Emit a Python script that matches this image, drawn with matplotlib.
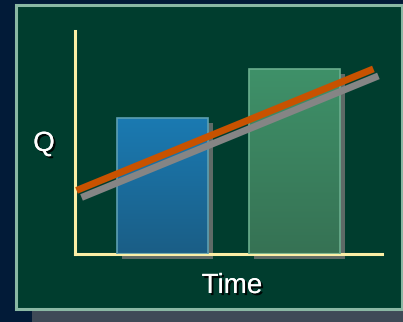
import numpy as np
import matplotlib
matplotlib.use('Agg')
import matplotlib.pyplot as plt
import matplotlib.patches as mpatches
import matplotlib.patheffects as pe
from matplotlib.transforms import offset_copy

# Data (arbitrary units on a 0-10 grid)
bar_x = [2.85, 7.15]
bar_q = [6.1, 8.3]
bar_width = 2.95
bar_top_colors = ['#1a7ab2', '#3f9169']
bar_bottom_colors = ['#1b5e86', '#367254']
bar_edge_colors = ['#5c9fb2', '#6aae8e']

trend_x = [0.05, 9.72]
trend_q = [2.85, 8.3]

x_label = 'Time'
y_label = 'Q'

plt.rcParams['font.family'] = ['Liberation Sans', 'DejaVu Sans']

fig = plt.figure(figsize=(4.03, 3.22), dpi=100)
fig.patch.set_facecolor('#021b38')

# slide panel + its shadow
W, H = 403, 322
fig.patches.append(mpatches.Rectangle((32 / W, 0), 1, 14 / H, transform=fig.transFigure,
                                      facecolor='#3f4a57', edgecolor='none', zorder=0))
fig.patches.append(mpatches.Rectangle((15.5 / W, 13.5 / H), 386 / W, 303.5 / H,
                                      transform=fig.transFigure, facecolor='#003d2e',
                                      edgecolor='#8ab8a4', linewidth=2.2, zorder=1))

ax = fig.add_axes([75 / W, (322 - 254) / H, 307 / W, 223 / H])
ax.set_facecolor('none')
ax.set_zorder(2)
for s in ['top', 'right']:
    ax.spines[s].set_visible(False)
for s in ['left', 'bottom']:
    ax.spines[s].set_color('#fcefa6')
    ax.spines[s].set_linewidth(2.2)
ax.set_xticks([])
ax.set_yticks([])

shadow = offset_copy(ax.transData, fig=fig, x=5, y=-5, units='dots')

for x, q, c_top, c_bot, c_edge in zip(bar_x, bar_q, bar_top_colors, bar_bottom_colors, bar_edge_colors):
    left = x - bar_width / 2
    ax.add_patch(mpatches.Rectangle((left, 0), bar_width, q, transform=shadow,
                                    facecolor='#5e6a66', edgecolor='none', zorder=1, clip_on=False))
    grad = np.linspace(0, 1, 100).reshape(-1, 1)
    cmap = matplotlib.colors.LinearSegmentedColormap.from_list('g', [c_bot, c_top])
    rect = mpatches.Rectangle((left, 0), bar_width, q, facecolor='none', edgecolor=c_edge,
                              linewidth=1.2, zorder=3)
    ax.add_patch(rect)
    im = ax.imshow(grad, extent=[left, left + bar_width, 0, q], origin='lower', cmap=cmap,
                   aspect='auto', zorder=2)
    im.set_clip_path(rect)

ax.plot(trend_x, trend_q, color='#858585', linewidth=5, solid_capstyle='butt',
        transform=offset_copy(ax.transData, fig=fig, x=5, y=-7, units='dots'), zorder=4, clip_on=False)
ax.plot(trend_x, trend_q, color='#c85200', linewidth=5, solid_capstyle='butt', zorder=5, clip_on=False)

ax.set_xlim(0, 10)
ax.set_ylim(0, 10)

txt_fx = [pe.withSimplePatchShadow(offset=(1.5, -1.5), shadow_rgbFace='black', alpha=0.9), pe.Normal()]
fig.text(44 / W, 1 - 144 / H, y_label, color='white', fontsize=20, ha='center', va='center',
         path_effects=txt_fx, zorder=10)
fig.text(232 / W, 1 - 286 / H, x_label, color='white', fontsize=20, ha='center', va='center',
         path_effects=txt_fx, zorder=10)

fig.savefig('out.png', dpi=100, facecolor=fig.get_facecolor())
